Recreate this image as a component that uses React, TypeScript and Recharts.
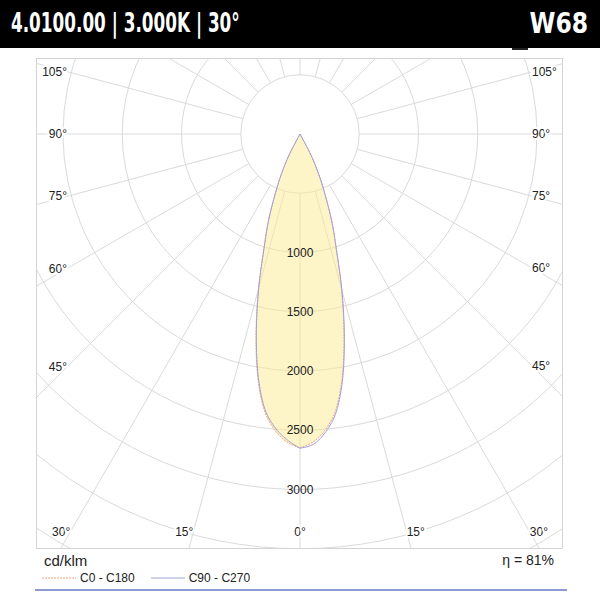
import { RadarChart, PolarGrid, PolarAngleAxis, PolarRadiusAxis, Radar } from 'recharts';

// gamma angles (deg), negative = C180 / C270 half, positive = C0 / C90 half
const gammaAngles = [-30, -27.5, -25, -22.5, -20, -17.5, -15, -12.5, -10, -7.5, -5, -2.5, 0, 2.5, 5, 7.5, 10, 12.5, 15, 17.5, 20, 22.5, 25, 27.5, 30];
// cd/klm
const c0c180 = [0, 200, 370, 550, 780, 1015, 1355, 1715, 2065, 2340, 2500, 2600, 2650, 2600, 2500, 2340, 2065, 1715, 1355, 1015, 780, 550, 370, 200, 0];
const c90c270 = [0, 202, 373, 554, 786, 1023, 1366, 1729, 2082, 2359, 2520, 2620, 2652, 2580, 2480, 2321, 2048, 1701, 1344, 1007, 774, 546, 367, 198, 0];

const angleTicks = [-180, -165, -150, -135, -120, -105, -90, -75, -60, -45, -30, -15, 0, 15, 30, 45, 60, 75, 90, 105, 120, 135, 150, 165];
const ringTicks = [500, 1000, 1500, 2000, 2500, 3000, 3500, 4000, 4500];
const ringLabels = [1000, 1500, 2000, 2500, 3000];

const data = gammaAngles.map((g, i) => ({ gamma: g, c0: c0c180[i], c90: c90c270[i] }));

const W = 525;
const H = 489;
const CX = 263;
const CY = 75;
const K = 59.25 / 500; // px per cd/klm
const LABEL_L = 30;
const LABEL_R = W - 30;
const LABEL_B = H - 16;

// catmull-rom through the points, as cubic segments
const smooth = (pts: any[]) => {
    let d = '';
    for (let i = 0; i < pts.length - 1; i++) {
        const p0 = pts[i - 1] ?? pts[i];
        const p1 = pts[i];
        const p2 = pts[i + 1];
        const p3 = pts[i + 2] ?? pts[i + 1];
        const c1x = p1.x + (p2.x - p0.x) / 6;
        const c1y = p1.y + (p2.y - p0.y) / 6;
        const c2x = p2.x - (p3.x - p1.x) / 6;
        const c2y = p2.y - (p3.y - p1.y) / 6;
        d += ` C${c1x},${c1y} ${c2x},${c2y} ${p2.x},${p2.y}`;
    }
    return d;
};

// each half smoothed on its own so the tip and the bottom stay pointed
const lobeShape = (stroke: string, dash: string | undefined, fill: string, fillOpacity: number) => (props: any) => {
    const pts = props.points || [];
    if (!pts.length) return null;
    const mid = Math.floor(pts.length / 2);
    const d = `M${pts[0].x},${pts[0].y}` + smooth(pts.slice(0, mid + 1)) + smooth(pts.slice(mid)) + ' Z';
    return (
        <path d={d} stroke={stroke} strokeDasharray={dash} strokeWidth={1} fill={fill} fillOpacity={fillOpacity} />
    );
};

const AngleTick = (props: any) => {
    const { x, y, payload } = props;
    const g = payload.value;
    if (Math.abs(g) > 105) return null;
    const dx = x - CX;
    const dy = y - CY;
    let px = 0;
    let py = 0;
    let t = dy > 0 ? (LABEL_B - CY) / dy : Infinity;
    px = CX + dx * t;
    if (!(dy > 0) || px < LABEL_L || px > LABEL_R) {
        t = dx < 0 ? (LABEL_L - CX) / dx : (LABEL_R - CX) / dx;
        px = CX + dx * t;
        py = CY + dy * t;
    } else {
        py = LABEL_B;
    }
    const anchor = Math.abs(dx) < 1e-6 ? 'middle' : dx < 0 ? 'end' : 'start';
    return (
        <text
            x={px}
            y={py}
            textAnchor={anchor}
            dominantBaseline="central"
            fontSize={12}
            fill="#222"
            stroke="#fff"
            strokeWidth={4}
            paintOrder="stroke"
            fontFamily="'Liberation Sans', Arial, sans-serif">
            {Math.abs(g)}°
        </text>
    );
};

const RingTick = (props: any) => {
    const { x, y, payload } = props;
    if (!ringLabels.includes(payload.value)) return null;
    return (
        <text
            x={x}
            y={y}
            textAnchor="middle"
            dominantBaseline="central"
            fontSize={12}
            fill="#222"
            fontFamily="'Liberation Sans', Arial, sans-serif">
            {payload.value}
        </text>
    );
};

const App = () => {
    return (
        <div style={{ position: 'absolute', left: 0, top: 0, width: 600, height: 600, background: '#fff' }}>
            <div
                style={{
                    position: 'absolute',
                    left: 0,
                    top: 0,
                    width: 600,
                    height: 48,
                    background: '#000',
                    color: '#fff',
                    fontFamily: "'Liberation Sans Narrow', 'DejaVu Sans Condensed', sans-serif",
                    fontWeight: 'bold',
                }}>
                <div
                    style={{
                        position: 'absolute',
                        left: 11,
                        top: 8,
                        fontSize: 26,
                        lineHeight: '30px',
                        whiteSpace: 'nowrap',
                        transform: 'scaleX(0.72)',
                        transformOrigin: 'left center',
                    }}>
                    4.0100.00 | 3.000K | 30°
                </div>
                <div
                    style={{
                        position: 'absolute',
                        right: 12,
                        top: 6,
                        fontSize: 29,
                        lineHeight: '34px',
                        transform: 'scaleX(0.9)',
                        transformOrigin: 'right center',
                    }}>
                    W68
                </div>
            </div>
            <div style={{ position: 'absolute', left: 512, top: 48, width: 16, height: 2, background: '#222' }} />

            <div
                style={{
                    position: 'absolute',
                    left: 36,
                    top: 58,
                    width: W,
                    height: H,
                    border: '1px solid #d4d4d4',
                    overflow: 'hidden',
                }}>
                <RadarChart
                    width={W}
                    height={H}
                    data={data}
                    cx={CX}
                    cy={CY}
                    innerRadius={500 * K}
                    outerRadius={4500 * K}
                    startAngle={90}
                    endAngle={-270}
                    margin={{ top: 0, right: 0, bottom: 0, left: 0 }}>
                    <PolarGrid gridType="circle" stroke="#dadada" />
                    <Radar
                        dataKey="c0"
                        name="C0 - C180"
                        shape={lobeShape('#f4a27c', '2 1', '#fbeb8f', 0.5)}
                        isAnimationActive={false}
                    />
                    <Radar
                        dataKey="c90"
                        name="C90 - C270"
                        shape={lobeShape('#9ea2dc', undefined, 'none', 0)}
                        isAnimationActive={false}
                    />
                    <PolarAngleAxis
                        dataKey="gamma"
                        type="number"
                        domain={[-180, 180]}
                        ticks={angleTicks}
                        tick={<AngleTick />}
                        tickLine={false}
                        axisLine={false}
                    />
                    <PolarRadiusAxis
                        type="number"
                        angle={-90}
                        domain={[500, 4500]}
                        ticks={ringTicks}
                        allowDataOverflow
                        tick={<RingTick />}
                        axisLine={false}
                        tickLine={false}
                    />
                </RadarChart>
            </div>

            <div
                style={{
                    position: 'absolute',
                    left: 0,
                    top: 550,
                    width: 600,
                    fontFamily: "'Liberation Sans', Arial, sans-serif",
                    color: '#222',
                }}>
                <div style={{ position: 'absolute', left: 44, top: 2, fontSize: 15 }}>cd/klm</div>
                <div style={{ position: 'absolute', right: 46, top: 2, fontSize: 14 }}>η = 81%</div>
                <div style={{ position: 'absolute', left: 42, top: 21, fontSize: 12, display: 'flex', alignItems: 'center' }}>
                    <svg width={34} height={4}>
                        <line x1={0} y1={2} x2={34} y2={2} stroke="#f4a27c" strokeWidth={1} strokeDasharray="2 1" />
                    </svg>
                    <span style={{ marginLeft: 4 }}>C0 - C180</span>
                    <svg width={34} height={4} style={{ marginLeft: 16 }}>
                        <line x1={0} y1={2} x2={34} y2={2} stroke="#9ea2dc" strokeWidth={1} />
                    </svg>
                    <span style={{ marginLeft: 4 }}>C90 - C270</span>
                </div>
                <div style={{ position: 'absolute', left: 35, top: 39, width: 532, height: 2, background: '#8e9bd0' }} />
            </div>
        </div>
    );
};

export default App;
